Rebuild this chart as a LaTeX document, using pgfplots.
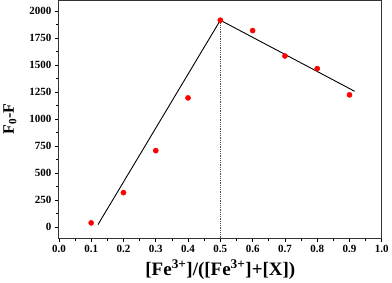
\documentclass[border=0pt]{standalone}
\usepackage{pgfplots}
\pgfplotsset{compat=1.18}
\usepackage{fontspec}
\setmainfont{Liberation Serif}
\begin{document}
\begin{tikzpicture}[x=1bp,y=1bp]
\begin{axis}[
  scale only axis,
  width=322bp, height=237bp,
  xmin=0, xmax=1, ymin=-100, ymax=2100,
  xtick={0,0.1,...,1.0},
  minor x tick num=1,
  ytick={0,250,...,2000},
  minor y tick num=1,
  tick align=outside,
  tick pos=left,
  major tick length=4bp,
  minor tick length=2.5bp,
  axis line style={line width=0.9pt, black!80},
  tick style={line width=0.7pt, black},
  /pgf/number format/assume math mode=true,
  /pgf/number format/1000 sep={},
  xticklabel style={/pgf/number format/fixed, /pgf/number format/fixed zerofill, /pgf/number format/precision=1},
  ticklabel style={font=\fontsize{11}{13}\selectfont\bfseries},
  xlabel={\textbf{[Fe\textsuperscript{3+}]/([Fe\textsuperscript{3+}]+[X])}},
  ylabel={\textbf{F\textsubscript{0}-F}},
  xlabel style={font=\fontsize{19}{21}\selectfont, yshift=0bp},
  ylabel style={font=\fontsize{16}{18}\selectfont, yshift=6bp},
]
\addplot[only marks, mark=*, mark size=2.6pt, color=red] coordinates {
  (0.1,41) (0.2,321) (0.3,710) (0.4,1198) (0.5,1917)
  (0.6,1821) (0.7,1586) (0.8,1469) (0.9,1226)
};
\addplot[black, line width=0.9pt] coordinates {(0.121,25) (0.5,1917) (0.916,1259)};
\addplot[black!70, densely dotted, line width=0.8pt] coordinates {(0.5,-100) (0.5,1917)};
\end{axis}
\end{tikzpicture}
\end{document}
